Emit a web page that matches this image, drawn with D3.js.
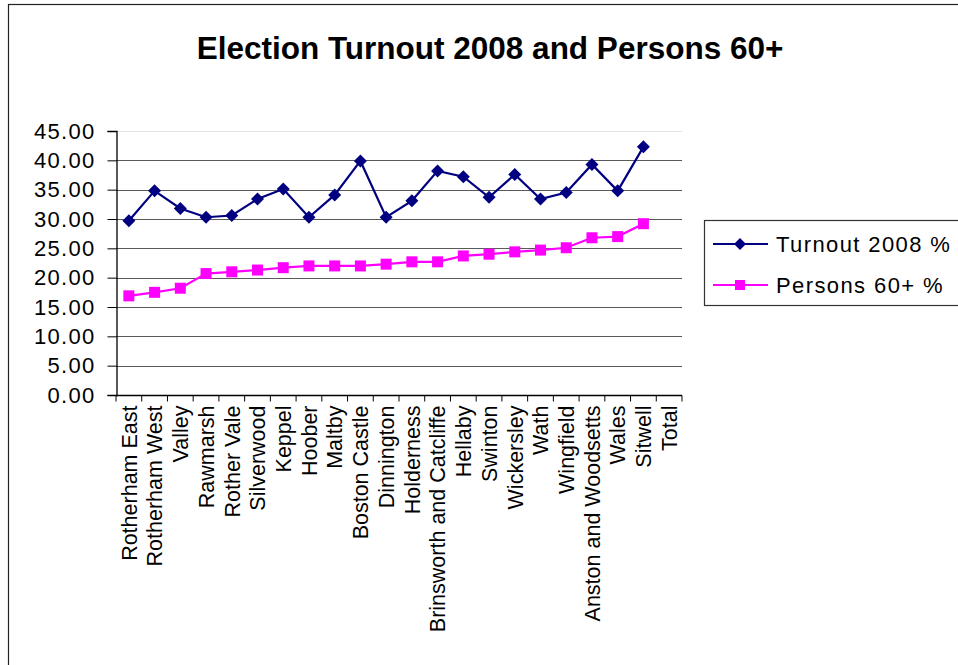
<!DOCTYPE html>
<html>
<head>
<meta charset="utf-8">
<script src="https://cdn.jsdelivr.net/npm/d3@7"></script>
<style>
  body { margin: 0; background: #fff; }
  svg { display: block; font-family: Arial, "Liberation Sans", sans-serif; }
</style>
</head>
<body>
<script>
// wards along the x axis (Total has no values)
const wards = [
    "Rotherham East", "Rotherham West", "Valley", "Rawmarsh", "Rother Vale",
    "Silverwood", "Keppel", "Hoober", "Maltby", "Boston Castle", "Dinnington",
    "Holderness", "Brinsworth and Catcliffe", "Hellaby", "Swinton", "Wickersley",
    "Wath", "Wingfield", "Anston and Woodsetts", "Wales", "Sitwell", "Total"
];

const turnout = [
    29.7, 34.8, 31.8, 30.3, 30.6, 33.4, 35.1, 30.3, 34.1, 39.9, 30.3,
    33.1, 38.2, 37.2, 33.7, 37.6, 33.4, 34.5, 39.3, 34.8, 42.3, null
];

const persons60 = [
    16.9, 17.5, 18.2, 20.7, 21.0, 21.3, 21.7, 22.0, 22.0, 22.0, 22.3,
    22.7, 22.7, 23.7, 24.0, 24.4, 24.7, 25.1, 26.8, 27.0, 29.2, null
];

const yTicks = [0, 5, 10, 15, 20, 25, 30, 35, 40, 45];

const seriesNames = ["Turnout 2008 %", "Persons 60+ %"];

const W = 958, H = 665;
const plotL = 116, plotR = 682, plotT = 131, plotB = 395;

const svg = d3.select("body").append("svg")
    .attr("width", W)
    .attr("height", H);

// outer chart border (cut off at the right and bottom, like the picture)
svg.append("rect")
    .attr("x", 8.5).attr("y", 4.5)
    .attr("width", W + 20).attr("height", H + 20)
    .attr("fill", "none")
    .attr("stroke", "#222")
    .attr("stroke-width", 1.2);

svg.append("text")
    .attr("x", 490)
    .attr("y", 59)
    .attr("text-anchor", "middle")
    .attr("font-size", 31.5)
    .attr("font-weight", "bold")
    .text("Election Turnout 2008 and Persons 60+");

const x = d3.scaleBand().domain(wards).range([plotL, plotR]);
const y = d3.scaleLinear().domain([0, 45]).range([plotB, plotT]);

// gridlines
svg.append("g")
    .selectAll("line")
    .data(yTicks.filter(d => d > 0))
    .join("line")
    .attr("x1", plotL).attr("x2", plotR)
    .attr("y1", d => Math.round(y(d)) + 0.5)
    .attr("y2", d => Math.round(y(d)) + 0.5)
    .attr("stroke", d => d === 45 ? "#e4e4e4" : "#5a5a5a")
    .attr("stroke-width", 1.2);

// y axis
const yAxis = svg.append("g")
    .attr("transform", `translate(${plotL + 0.5},0)`)
    .call(d3.axisLeft(y).tickValues(yTicks).tickFormat(d3.format(".2f")).tickSize(9).tickPadding(12));
yAxis.select(".domain").attr("stroke", "#000").attr("stroke-width", 1.3);
yAxis.selectAll(".tick line").attr("stroke", "#000");
yAxis.selectAll("text")
    .attr("font-size", 22)
    .attr("letter-spacing", 1.3)
    .attr("fill", "#000")
    .attr("font-family", "Arial, 'Liberation Sans', sans-serif");

// x axis: ticks on the category boundaries
const xAxis = svg.append("g").attr("transform", `translate(0,${plotB + 0.5})`);
xAxis.append("line")
    .attr("x1", plotL).attr("x2", plotR)
    .attr("stroke", "#000").attr("stroke-width", 1.3);
xAxis.selectAll("line.tick")
    .data(wards.concat(["__end"]))
    .join("line")
    .attr("class", "tick")
    .attr("x1", d => d === "__end" ? plotR : x(d))
    .attr("x2", d => d === "__end" ? plotR : x(d))
    .attr("y1", 0).attr("y2", 6)
    .attr("stroke", "#000");
xAxis.selectAll("text")
    .data(wards)
    .join("text")
    .attr("transform", d => `translate(${x(d) + x.bandwidth() / 2},10) rotate(-90)`)
    .attr("text-anchor", "end")
    .attr("dy", "0.36em")
    .attr("font-size", 21.5)
    .text(d => d);

// series lines + markers
const line = d3.line()
    .defined(d => d.v != null)
    .x(d => x(d.w) + x.bandwidth() / 2)
    .y(d => y(d.v));

const tData = wards.map((w, i) => ({ w: w, v: turnout[i] }));
const pData = wards.map((w, i) => ({ w: w, v: persons60[i] }));

svg.append("path")
    .datum(tData)
    .attr("d", line)
    .attr("fill", "none")
    .attr("stroke", "#000080")
    .attr("stroke-width", 2.2);

svg.append("path")
    .datum(pData)
    .attr("d", line)
    .attr("fill", "none")
    .attr("stroke", "#ff00ff")
    .attr("stroke-width", 2.2);

const diamond = "M0,-6.5L6.5,0L0,6.5L-6.5,0Z";

svg.append("g")
    .selectAll("path")
    .data(tData.filter(d => d.v != null))
    .join("path")
    .attr("d", diamond)
    .attr("transform", d => `translate(${x(d.w) + x.bandwidth() / 2},${y(d.v)})`)
    .attr("fill", "#000080");

svg.append("g")
    .selectAll("rect")
    .data(pData.filter(d => d.v != null))
    .join("rect")
    .attr("x", d => x(d.w) + x.bandwidth() / 2 - 5.5)
    .attr("y", d => y(d.v) - 5.5)
    .attr("width", 11).attr("height", 11)
    .attr("fill", "#ff00ff");

// legend
const legend = svg.append("g");
legend.append("rect")
    .attr("x", 704.5).attr("y", 220.5)
    .attr("width", 280).attr("height", 85)
    .attr("fill", "#fff")
    .attr("stroke", "#333")
    .attr("stroke-width", 1.2);

const legendRows = [
    { name: seriesNames[0], color: "#000080", shape: "diamond", y: 244 },
    { name: seriesNames[1], color: "#ff00ff", shape: "square", y: 285 }
];

legendRows.forEach(r => {
    legend.append("line")
        .attr("x1", 713).attr("x2", 768)
        .attr("y1", r.y).attr("y2", r.y)
        .attr("stroke", r.color).attr("stroke-width", 2);
    if (r.shape === "diamond") {
        legend.append("path")
            .attr("d", "M0,-6L6,0L0,6L-6,0Z")
            .attr("transform", `translate(740,${r.y})`)
            .attr("fill", r.color);
    } else {
        legend.append("rect")
            .attr("x", 735).attr("y", r.y - 5)
            .attr("width", 10).attr("height", 10)
            .attr("fill", r.color);
    }
    legend.append("text")
        .attr("x", 776).attr("y", r.y)
        .attr("dy", "0.36em")
        .attr("font-size", 22)
        .attr("letter-spacing", 1.4)
        .text(r.name);
});
</script>
</body>
</html>
